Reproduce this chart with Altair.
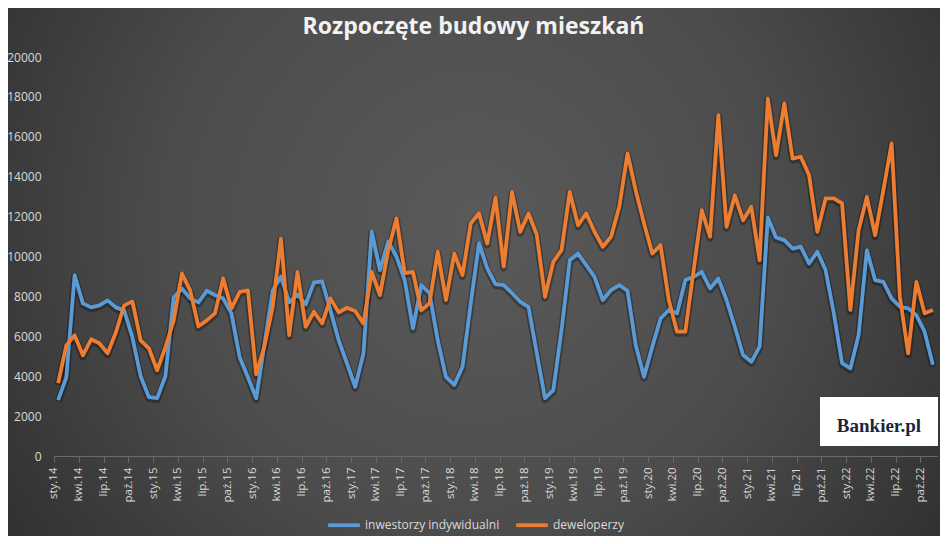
import altair as alt
import pandas as pd

# ---------------- data ----------------
MONTHS = ["sty", "lut", "mar", "kwi", "maj", "cze", "lip", "sie", "wrz", "paź", "lis", "gru"]
YEARS = ["14", "15", "16", "17", "18", "19", "20", "21", "22"]
N_POINTS = 107  # sty.14 ... lis.22
labels = [f"{m}.{y}" for y in YEARS for m in MONTHS][:N_POINTS]
X_TICKS = labels[::3]
Y_TICKS = [0, 2000, 4000, 6000, 8000, 10000, 12000, 14000, 16000, 18000, 20000]
SERIES = ["inwestorzy indywidualni", "deweloperzy"]
COLORS = ["#5b9bd5", "#ed7d31"]

indywidualni = [
    2800, 3950, 9070, 7650, 7450, 7550, 7800, 7450, 7300, 5950, 4000, 2950,
    2900, 4000, 7950, 8400, 7900, 7700, 8280, 8070, 7900, 7150, 4950, 3950,
    2900, 5600, 8300, 9000, 7700, 8100, 7600, 8700, 8750, 7300, 5800, 4650,
    3470, 5150, 11240, 9320, 10750, 9990, 8820, 6400, 8570, 8170, 5800, 3970,
    3560, 4470, 7650, 10670, 9400, 8620, 8570, 8170, 7730, 7480, 5150, 2900,
    3300, 6300, 9820, 10150, 9570, 8980, 7820, 8320, 8570, 8280, 5550, 3970,
    5480, 6900, 7320, 7150, 8820, 8980, 9230, 8400, 8900, 7820, 6480, 5060,
    4720, 5480, 11950, 10950, 10820, 10400, 10490, 9650, 10240, 9320, 7150, 4650,
    4390, 6060, 10320, 8820, 8730, 7900, 7480, 7400, 7060, 6230, 4570,
]
deweloperzy = [
    3650, 5550, 6050, 5050, 5850, 5650, 5150, 6200, 7550, 7750, 5800, 5400,
    4300, 5450, 6800, 9150, 8300, 6500, 6800, 7150, 8900, 7400, 8230, 8300,
    4100, 5500, 7480, 10900, 6060, 9230, 6480, 7230, 6650, 7900, 7200, 7430,
    7270, 6650, 9230, 8070, 10320, 11910, 9170, 9230, 7300, 7650, 10240, 7820,
    10150, 9070, 11660, 12170, 10650, 12950, 9500, 13240, 11240, 12160, 11100, 7980,
    9730, 10320, 13240, 11570, 12160, 11240, 10490, 10990, 12490, 15170, 13300, 11660,
    10150, 10570, 7820, 6230, 6230, 9300, 12320, 10990, 17080, 11490, 13070, 11820,
    12490, 9820, 17910, 15080, 17670, 14910, 15000, 14080, 11240, 12910, 12910, 12660,
    7320, 11320, 12990, 11070, 13330, 15670, 8000, 5150, 8730, 7150, 7320,
]

df = pd.DataFrame({
    "miesiac": labels * 2,
    "seria": [SERIES[0]] * N_POINTS + [SERIES[1]] * N_POINTS,
    "wartosc": indywidualni + deweloperzy,
})

# ---------------- layout ----------------
W, H = 883, 399
PAD_L, PAD_T, PAD_R, PAD_B = 46, 49, 3, 80
TEXT = "#d9d9d9"
FONT = "Open Sans"

x_enc = alt.X(
    "miesiac:N",
    sort=labels,
    scale=alt.Scale(type="point", padding=0.5),
    axis=alt.Axis(
        values=X_TICKS, title=None, labelAngle=-90, labelFont=FONT,
        labelFontSize=11.5, labelColor=TEXT, labelPadding=5,
        domainColor="#6a6a6a", tickColor="#6a6a6a", tickSize=6,
        tickOffset=-4.13, grid=False, labelOverlap=False, zindex=1,
    ),
)
y_enc = alt.Y(
    "wartosc:Q",
    scale=alt.Scale(domain=[0, 20000], nice=False),
    axis=alt.Axis(
        values=Y_TICKS, title=None, format="d", grid=False, domain=False,
        ticks=False, labelPadding=13, labelFont=FONT, labelFontSize=12,
        labelColor=TEXT, zindex=1,
    ),
)

one = pd.DataFrame({"k": [0]})

bg = alt.Chart(one).mark_rect(
    fill={
        "gradient": "radial",
        "x1": 0.5, "y1": 0.45, "r1": 0,
        "x2": 0.5, "y2": 0.45, "r2": 0.72,
        "stops": [
            {"offset": 0, "color": "#5a5a5a"},
            {"offset": 0.45, "color": "#4c4c4c"},
            {"offset": 1, "color": "#242424"},
        ],
    }
).encode(
    x=alt.value(-PAD_L - 8), x2=alt.value(W + PAD_R + 8),
    y=alt.value(-PAD_T - 8), y2=alt.value(H + PAD_B + 8),
)

shadow = alt.Chart(df).mark_line(
    color="#000000", opacity=0.3, strokeWidth=7, strokeJoin="round", yOffset=1.5
).encode(x=x_enc, y=y_enc, detail="seria:N")

lines = alt.Chart(df).mark_line(strokeWidth=3.8, strokeJoin="round").encode(
    x=x_enc,
    y=y_enc,
    color=alt.Color(
        "seria:N",
        scale=alt.Scale(domain=SERIES, range=COLORS),
        sort=SERIES,
        legend=alt.Legend(
            title=None, orient="none", direction="horizontal",
            legendX=272, legendY=450, symbolType="stroke",
            symbolStrokeWidth=3.8, symbolSize=1000, labelFont=FONT,
            labelFontSize=12, labelColor=TEXT, labelOffset=3,
            columnPadding=8, zindex=1,
        ),
    ),
)

logo_box = alt.Chart(one).mark_rect(color="#ffffff").encode(
    x=alt.value(766), x2=alt.value(884), y=alt.value(340), y2=alt.value(389)
)
logo_text = alt.Chart(one).mark_text(
    text="Bankier.pl", font="Liberation Serif", fontWeight="bold",
    fontSize=19, color="#1c2442", align="center", baseline="middle",
).encode(x=alt.value(825), y=alt.value(369))

chart = alt.layer(bg, shadow, lines, logo_box, logo_text).properties(
    width=W,
    height=H,
    padding={"left": PAD_L, "top": PAD_T, "right": PAD_R, "bottom": PAD_B},
    autosize=alt.AutoSizeParams(type="none"),
    background="#333333",
    title=alt.TitleParams(
        "Rozpoczęte budowy mieszkań", font=FONT, fontSize=23,
        fontWeight="bold", color="#f2f2f2", anchor="middle", dx=-22,
        offset=-39, zindex=1,
    ),
).configure_view(stroke=None)

chart.save("out.html", embed_options={"renderer": "svg", "actions": False})
